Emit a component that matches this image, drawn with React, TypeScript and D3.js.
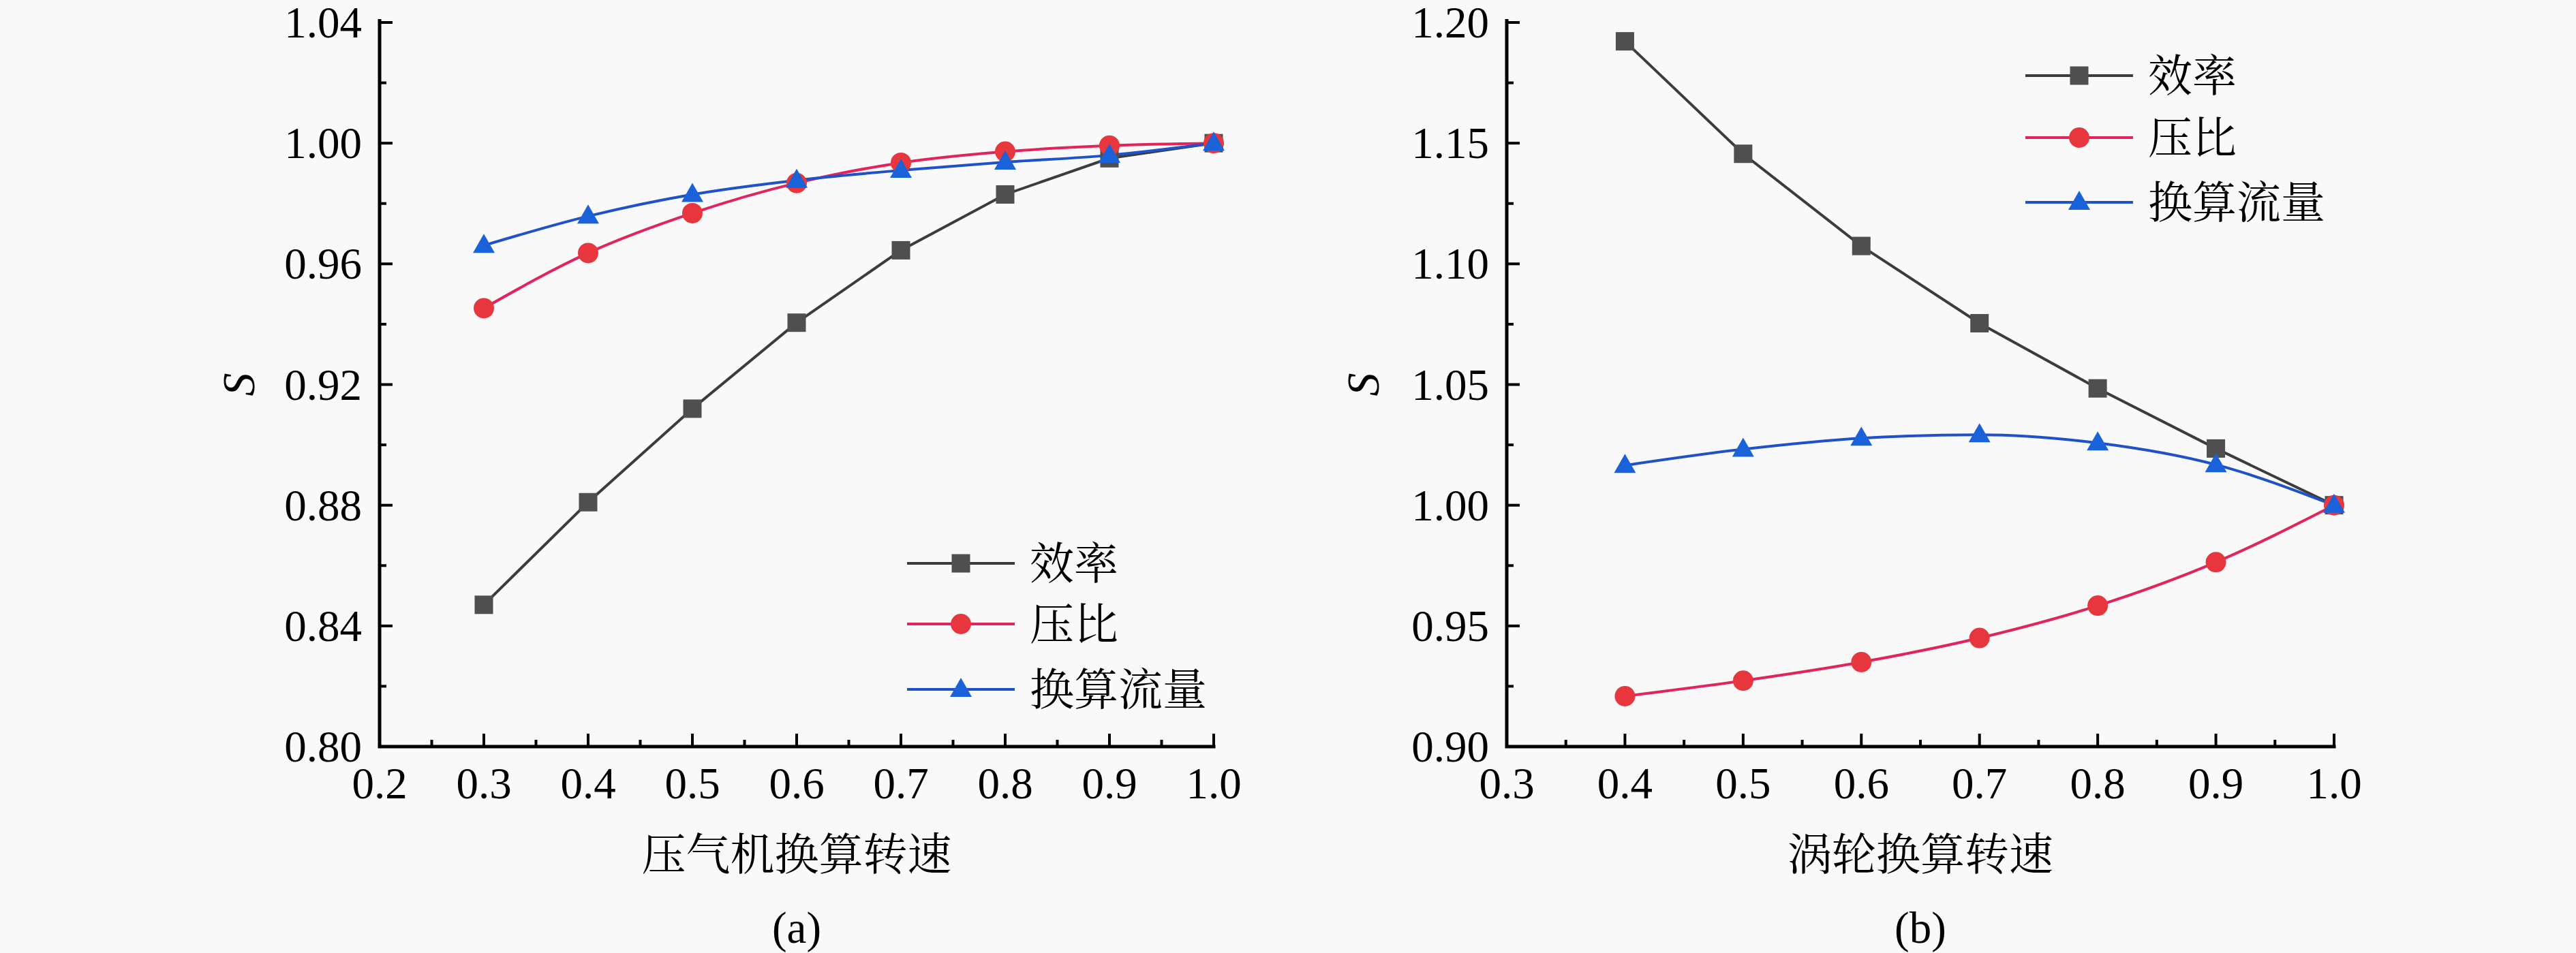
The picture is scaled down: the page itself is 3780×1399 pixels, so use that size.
import * as d3 from "d3"
import { useEffect, useRef } from "react"

// rotational speed values (x)
const compSpeed = [0.3, 0.4, 0.5, 0.6, 0.7, 0.8, 0.9, 1.0]
const turbSpeed = [0.4, 0.5, 0.6, 0.7, 0.8, 0.9, 1.0]

// (a) compressor
const compEff = [0.847, 0.881, 0.912, 0.9405, 0.9645, 0.983, 0.995, 1.0]
const compPr = [0.9453, 0.9636, 0.9768, 0.9868, 0.9935, 0.9972, 0.9992, 1.0]
const compFlow = [0.9661, 0.9758, 0.983, 0.9877, 0.991, 0.9937, 0.996, 1.0]

// (b) turbine
const turbEff = [1.1922, 1.1456, 1.1074, 1.0754, 1.0484, 1.0235, 1.0]
const turbPr = [0.9209, 0.9273, 0.935, 0.945, 0.9584, 0.9764, 1.0]
const turbFlow = [1.0165, 1.0232, 1.0278, 1.0292, 1.0258, 1.0168, 1.0]

const seriesNames = ["效率", "压比", "换算流量"]
const leftXTicks = [0.2, 0.3, 0.4, 0.5, 0.6, 0.7, 0.8, 0.9, 1.0]
const leftYTicks = [0.8, 0.84, 0.88, 0.92, 0.96, 1.0, 1.04]
const rightXTicks = [0.3, 0.4, 0.5, 0.6, 0.7, 0.8, 0.9, 1.0]
const rightYTicks = [0.9, 0.95, 1.0, 1.05, 1.1, 1.15, 1.2]

const lineColors = ["#3c3c3c", "#e3245c", "#1f52c8"]
const markColors = ["#4f4f4f", "#e8363f", "#1a62da"]

const W = 3780
const H = 1399
const top = 33
const bottom = 1096
const serif = "Liberation Serif, Tinos, Times New Roman, serif"
const cjk = "Liberation Serif, Noto Serif CJK SC, Noto Sans CJK SC, serif"

type PanelProps = {
  xs: number[]
  series: number[][]
  xTicks: number[]
  yTicks: number[]
  left: number
  right: number
  yFmt: string
  xTitle: string
  tag: string
  yLabelX: number
  legendX: number
  legendY: number[]
}

function drawMarker(g: d3.Selection<SVGGElement, unknown, null, undefined>, i: number, cx: number, cy: number) {
  if (i === 0) {
    g.append("rect")
      .attr("x", cx - 13.5)
      .attr("y", cy - 13.5)
      .attr("width", 27)
      .attr("height", 27)
      .attr("fill", markColors[0])
  } else if (i === 1) {
    g.append("circle").attr("cx", cx).attr("cy", cy).attr("r", 15).attr("fill", markColors[1])
  } else {
    g.append("path")
      .attr("d", `M${cx},${cy - 17}L${cx + 16},${cy + 11}L${cx - 16},${cy + 11}Z`)
      .attr("fill", markColors[2])
  }
}

function Panel(p: PanelProps) {
  const ref = useRef<SVGGElement>(null)

  useEffect(() => {
    if (!ref.current) return
    const g = d3.select(ref.current)
    g.selectAll("*").remove()

    const x = d3
      .scaleLinear()
      .domain([p.xTicks[0], p.xTicks[p.xTicks.length - 1]])
      .range([p.left, p.right])
    const y = d3
      .scaleLinear()
      .domain([p.yTicks[0], p.yTicks[p.yTicks.length - 1]])
      .range([bottom, top])

    // minor ticks sit half way between majors
    const xMinor = p.xTicks.slice(1).map((t, i) => (t + p.xTicks[i]) / 2)
    const yMinor = p.yTicks.slice(1).map((t, i) => (t + p.yTicks[i]) / 2)

    p.series.forEach((s, i) => {
      const line = d3
        .line<number>()
        .x((_, j) => x(p.xs[j]))
        .y((d) => y(d))
        .curve(i === 0 ? d3.curveLinear : d3.curveMonotoneX)
      g.append("path")
        .attr("d", line(s))
        .attr("fill", "none")
        .attr("stroke", lineColors[i])
        .attr("stroke-width", 4)
    })
    p.series.forEach((s, i) => {
      s.forEach((v, j) => drawMarker(g, i, x(p.xs[j]), y(v)))
    })

    // axes
    const ax = g.append("g").attr("stroke", "#000")
    ax.append("path")
      .attr("d", `M${p.left},${top - 2.5}V${bottom}H${p.right}`)
      .attr("fill", "none")
      .attr("stroke-width", 5)
      .attr("stroke-linecap", "square")
    p.yTicks.forEach((t) =>
      ax.append("line").attr("x1", p.left).attr("x2", p.left + 19).attr("y1", y(t)).attr("y2", y(t)).attr("stroke-width", 4),
    )
    yMinor.forEach((t) =>
      ax.append("line").attr("x1", p.left).attr("x2", p.left + 10).attr("y1", y(t)).attr("y2", y(t)).attr("stroke-width", 4),
    )
    p.xTicks.forEach((t) =>
      ax.append("line").attr("x1", x(t)).attr("x2", x(t)).attr("y1", bottom).attr("y2", bottom - 19).attr("stroke-width", 4),
    )
    xMinor.forEach((t) =>
      ax.append("line").attr("x1", x(t)).attr("x2", x(t)).attr("y1", bottom).attr("y2", bottom - 10).attr("stroke-width", 4),
    )

    const fy = d3.format(p.yFmt)
    const fx = d3.format(".1f")
    g.selectAll(".yl")
      .data(p.yTicks)
      .join("text")
      .attr("x", p.left - 26)
      .attr("y", (d) => y(d))
      .attr("dy", "0.34em")
      .attr("text-anchor", "end")
      .style("font-family", serif)
      .style("font-size", "65px")
      .text((d) => fy(d))
    g.selectAll(".xl")
      .data(p.xTicks)
      .join("text")
      .attr("x", (d) => x(d))
      .attr("y", 1172)
      .attr("text-anchor", "middle")
      .style("font-family", serif)
      .style("font-size", "65px")
      .text((d) => fx(d))

    const cx = (p.left + p.right) / 2
    g.append("text")
      .attr("transform", `translate(${p.yLabelX},${(top + bottom) / 2}) rotate(-90)`)
      .attr("text-anchor", "middle")
      .attr("dy", "0.33em")
      .style("font-family", serif)
      .style("font-style", "italic")
      .style("font-size", "68px")
      .text("S")
    g.append("text")
      .attr("x", cx)
      .attr("y", 1277)
      .attr("text-anchor", "middle")
      .style("font-family", cjk)
      .style("font-size", "65px")
      .text(p.xTitle)
    g.append("text")
      .attr("x", cx)
      .attr("y", 1384)
      .attr("text-anchor", "middle")
      .style("font-family", serif)
      .style("font-size", "65px")
      .text(p.tag)

    // legend
    seriesNames.forEach((name, i) => {
      const ly = p.legendY[i]
      g.append("line")
        .attr("x1", p.legendX)
        .attr("x2", p.legendX + 158)
        .attr("y1", ly)
        .attr("y2", ly)
        .attr("stroke", lineColors[i])
        .attr("stroke-width", 4)
      drawMarker(g, i, p.legendX + 79, ly)
      g.append("text")
        .attr("x", p.legendX + 180)
        .attr("y", ly)
        .attr("dy", "0.36em")
        .style("font-family", cjk)
        .style("font-size", "65px")
        .text(name)
    })
  }, [])

  return <g ref={ref} />
}

export default function App() {
  return (
    <svg
      width={W}
      height={H}
      viewBox={`0 0 ${W} ${H}`}
      style={{ position: "absolute", left: 0, top: 0, background: "#f9f9f9" }}
    >
      <rect width={W} height={H} fill="#f9f9f9" />
      <Panel
        xs={compSpeed}
        series={[compEff, compPr, compFlow]}
        xTicks={leftXTicks}
        yTicks={leftYTicks}
        left={557}
        right={1781}
        yFmt=".2f"
        xTitle="压气机换算转速"
        tag="(a)"
        yLabelX={351}
        legendX={1331}
        legendY={[827, 916, 1012]}
      />
      <Panel
        xs={turbSpeed}
        series={[turbEff, turbPr, turbFlow]}
        xTicks={rightXTicks}
        yTicks={rightYTicks}
        left={2211}
        right={3425}
        yFmt=".2f"
        xTitle="涡轮换算转速"
        tag="(b)"
        yLabelX={2001}
        legendX={2972}
        legendY={[111, 202, 297]}
      />
    </svg>
  )
}
